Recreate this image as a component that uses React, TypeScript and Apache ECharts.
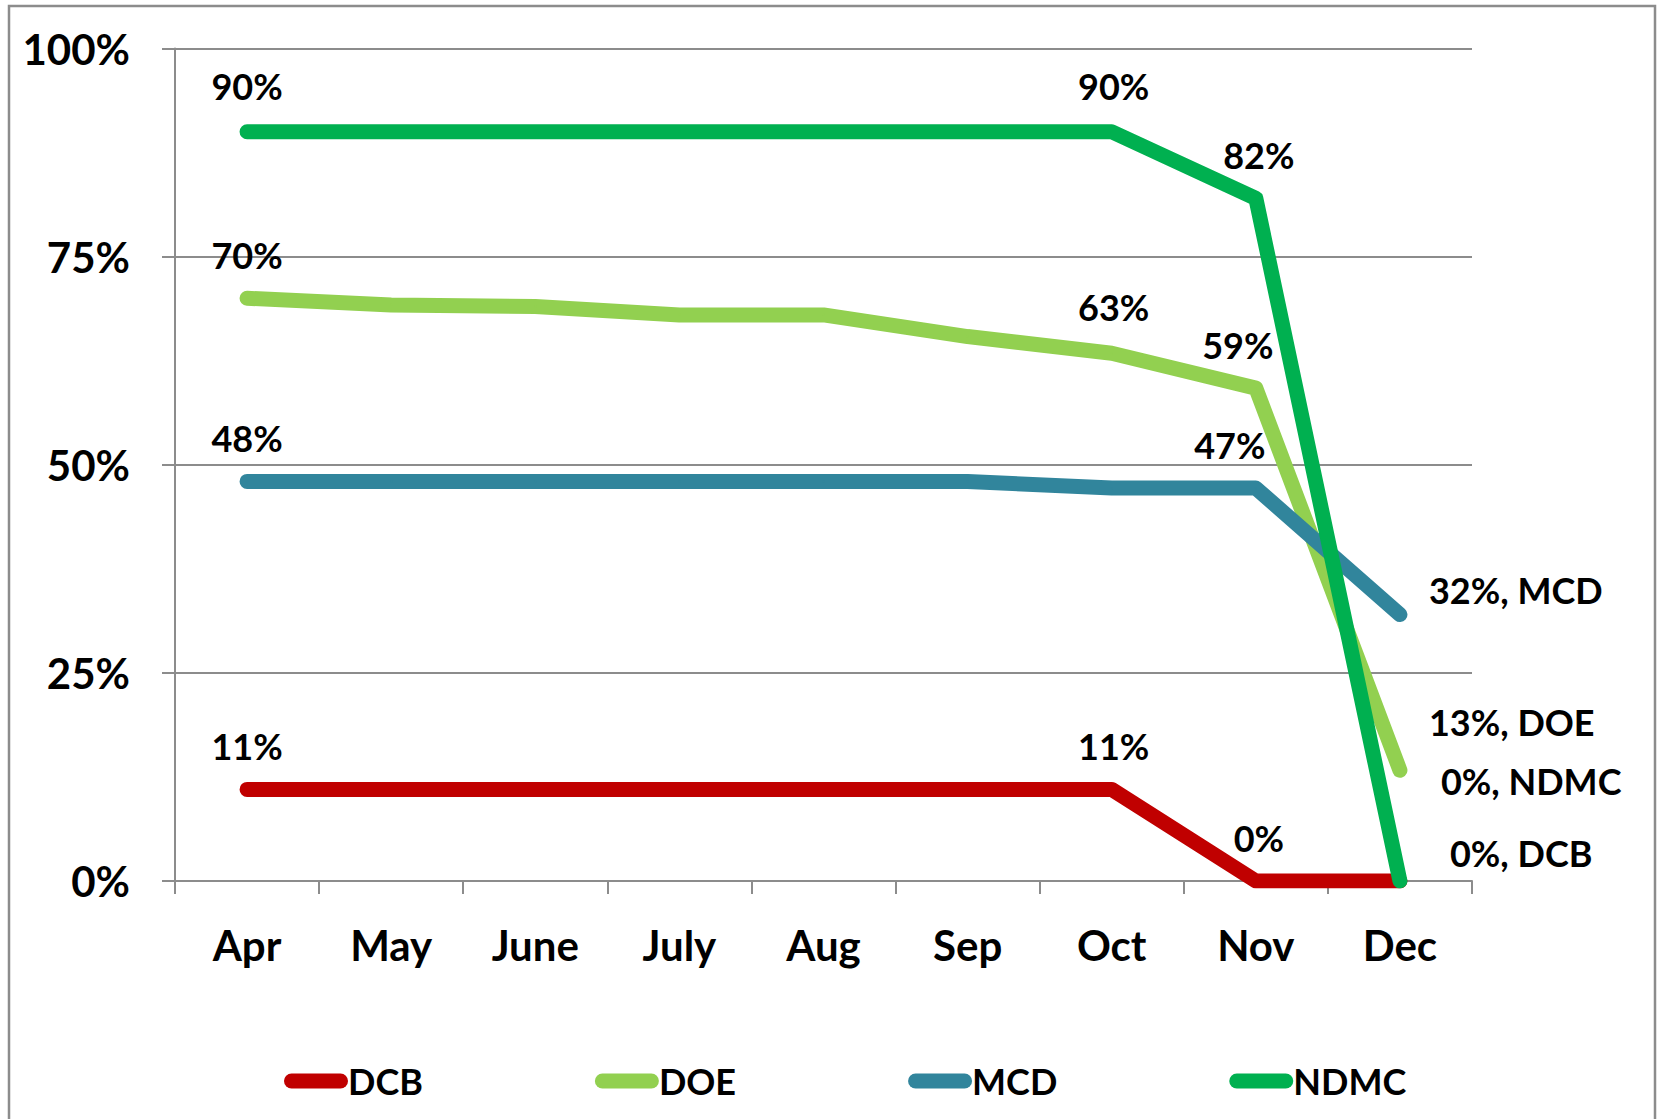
import React, { useEffect, useRef } from "react";
import * as echarts from "echarts";

const categories = ["Apr", "May", "June", "July", "Aug", "Sep", "Oct", "Nov", "Dec"];
const seriesNames = ["DCB", "DOE", "MCD", "NDMC"];
const dcbValues = [11, 11, 11, 11, 11, 11, 11, 0, 0];
const doeValues = [70, 69.2, 69, 68, 68, 65.4, 63.4, 59.2, 13.3];
const mcdValues = [48, 48, 48, 48, 48, 48, 47.2, 47.2, 32];
const ndmcValues = [90, 90, 90, 90, 90, 90, 90, 82, 0];
const yTicks = [0, 25, 50, 75, 100];

const colors = ["#C00000", "#92D050", "#31859C", "#00B050"];
const FONT = "Lato";

// which points carry a label, and where
type LabelSpec = { idx: number; pos: "top" | "right"; offset: [number, number] };
const labelSpecs: LabelSpec[][] = [
  [
    { idx: 0, pos: "top", offset: [0, 0] },
    { idx: 6, pos: "top", offset: [2, 0] },
    { idx: 7, pos: "top", offset: [3, 0] },
    { idx: 8, pos: "right", offset: [49, -28] },
  ],
  [
    { idx: 0, pos: "top", offset: [0, 0] },
    { idx: 6, pos: "top", offset: [2, -3] },
    { idx: 7, pos: "top", offset: [-18, 0] },
    { idx: 8, pos: "right", offset: [28, -48] },
  ],
  [
    { idx: 0, pos: "top", offset: [0, 0] },
    { idx: 7, pos: "top", offset: [-26, 0] },
    { idx: 8, pos: "right", offset: [28, -25] },
  ],
  [
    { idx: 0, pos: "top", offset: [0, -3] },
    { idx: 6, pos: "top", offset: [2, -3] },
    { idx: 7, pos: "top", offset: [3, 0] },
    { idx: 8, pos: "right", offset: [40, -100] },
  ],
];

export default function App() {
  const ref = useRef<HTMLDivElement>(null);
  useEffect(() => {
    if (!ref.current) return;
    const chart = echarts.init(ref.current, undefined, { renderer: "svg" });
    const allValues = [dcbValues, doeValues, mcdValues, ndmcValues];
    const series = allValues.map((vals, si) => ({
      name: seriesNames[si],
      type: "line",
      color: colors[si],
      showSymbol: true,
      symbol: "circle",
      symbolSize: 2,
      itemStyle: { color: colors[si] },
      lineStyle: { width: 15, color: colors[si], cap: "round", join: "round" },
      emphasis: { disabled: true },
      z: 2 + si,
      data: vals.map((v, i) => {
        const spec = labelSpecs[si].find((s) => s.idx === i);
        if (!spec) return { value: v, label: { show: false } };
        const text =
          spec.pos === "right"
            ? `${Math.round(v)}%, ${seriesNames[si]}`
            : `${Math.round(v)}%`;
        return {
          value: v,
          label: {
            show: true,
            position: spec.pos,
            distance: spec.pos === "top" ? 24 : 0,
            offset: spec.offset,
            formatter: text,
            fontFamily: FONT,
            fontWeight: "bold",
            fontSize: 36,
            color: "#000",
          },
        };
      }),
    }));

    chart.setOption({
      animation: false,
      backgroundColor: "#fff",
      graphic: [
        {
          type: "rect",
          shape: { x: 9, y: 6, width: 1646, height: 1200 },
          style: { fill: "none", stroke: "#8c8c8c", lineWidth: 2.5 },
          silent: true,
        },
      ],
      grid: { left: 175, top: 48.5, right: 189, bottom: 238, containLabel: false },
      legend: {
        data: seriesNames,
        left: 279,
        top: 1058,
        itemGap: 172,
        itemWidth: 64,
        itemHeight: 15,
        icon: "path://M7.5,0 H56.5 A7.5,7.5 0 0 1 56.5,15 H7.5 A7.5,7.5 0 0 1 7.5,0 Z",
        textStyle: { fontFamily: FONT, fontWeight: "bold", fontSize: 36, color: "#000", padding: [0, 0, 0, -5] },
      },
      xAxis: {
        type: "category",
        data: categories,
        boundaryGap: true,
        axisLine: { show: true, lineStyle: { color: "#8c8c8c", width: 2 } },
        axisTick: { show: true, length: 13, inside: false, lineStyle: { color: "#8c8c8c", width: 2 } },
        axisLabel: {
          fontFamily: FONT,
          fontWeight: "bold",
          fontSize: 42,
          color: "#000",
          margin: 43,
        },
        splitLine: { show: false },
      },
      yAxis: {
        type: "value",
        min: yTicks[0],
        max: yTicks[yTicks.length - 1],
        interval: 25,
        axisLine: { show: true, lineStyle: { color: "#8c8c8c", width: 2 } },
        axisTick: { show: true, length: 13, inside: false, lineStyle: { color: "#8c8c8c", width: 2 } },
        splitLine: { show: true, lineStyle: { color: "#8c8c8c", width: 2 } },
        axisLabel: {
          fontFamily: FONT,
          fontWeight: "bold",
          fontSize: 42,
          color: "#000",
          margin: 45,
          formatter: (v: number) => `${v}%`,
        },
      },
      series,
    });
    return () => chart.dispose();
  }, []);
  return (
    <div
      ref={ref}
      style={{ position: "absolute", left: 0, top: 0, width: 1661, height: 1119 }}
    />
  );
}
